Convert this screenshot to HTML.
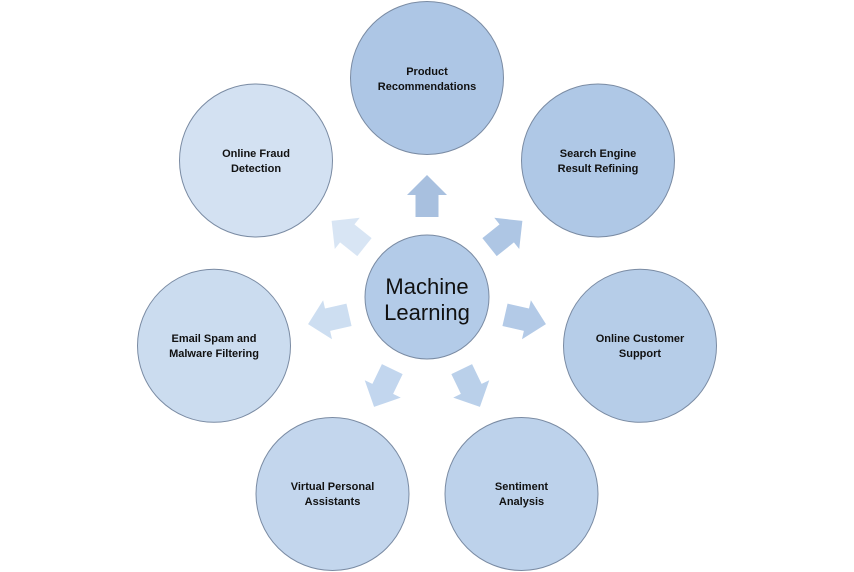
<!DOCTYPE html>
<html><head><meta charset="utf-8"><style>
html,body{margin:0;padding:0;background:#fff;}
svg{display:block;}
text{font-family:"Liberation Sans",sans-serif;fill:#111;}
.t{font-size:11px;font-weight:bold;text-anchor:middle;}
</style></head><body>
<svg width="854" height="572" viewBox="0 0 854 572" xmlns="http://www.w3.org/2000/svg">
<g stroke="#7a8ba3" stroke-width="1">
<circle cx="427" cy="78" r="76.5" fill="#adc6e5"/>
<circle cx="598" cy="160.5" r="76.5" fill="#afc8e6"/>
<circle cx="640" cy="345.8" r="76.5" fill="#b6cde8"/>
<circle cx="521.5" cy="494" r="76.5" fill="#bdd2eb"/>
<circle cx="332.5" cy="494" r="76.5" fill="#c3d6ed"/>
<circle cx="214" cy="345.8" r="76.5" fill="#cbdcef"/>
<circle cx="256" cy="160.5" r="76.5" fill="#d3e1f2"/>
<circle cx="427" cy="297" r="62" fill="#b3cbe8"/>
</g>
<g>
<polygon points="-11.5,-80 11.5,-80 11.5,-102 20,-102 0,-122 -20,-102 -11.5,-102" fill="#a8c0df" transform="translate(427,297) rotate(0)"/>
<polygon points="-11.5,-80 11.5,-80 11.5,-102 20,-102 0,-122 -20,-102 -11.5,-102" fill="#aec6e4" transform="translate(427,297) rotate(51.43)"/>
<polygon points="-11.5,-80 11.5,-80 11.5,-102 20,-102 0,-122 -20,-102 -11.5,-102" fill="#b3cae7" transform="translate(427,297) rotate(102.86)"/>
<polygon points="-11.5,-80 11.5,-80 11.5,-102 20,-102 0,-122 -20,-102 -11.5,-102" fill="#bad0ea" transform="translate(427,297) rotate(154.29)"/>
<polygon points="-11.5,-80 11.5,-80 11.5,-102 20,-102 0,-122 -20,-102 -11.5,-102" fill="#c2d6ee" transform="translate(427,297) rotate(205.71)"/>
<polygon points="-11.5,-80 11.5,-80 11.5,-102 20,-102 0,-122 -20,-102 -11.5,-102" fill="#cddef1" transform="translate(427,297) rotate(257.14)"/>
<polygon points="-11.5,-80 11.5,-80 11.5,-102 20,-102 0,-122 -20,-102 -11.5,-102" fill="#d8e5f4" transform="translate(427,297) rotate(308.57)"/>
</g>
<text x="427" y="294" font-size="22" text-anchor="middle">Machine</text>
<text x="427" y="320" font-size="22" text-anchor="middle">Learning</text>
<text class="t" x="427" y="75">Product</text>
<text class="t" x="427" y="90">Recommendations</text>
<text class="t" x="598" y="157">Search Engine</text>
<text class="t" x="598" y="172">Result Refining</text>
<text class="t" x="640" y="342">Online Customer</text>
<text class="t" x="640" y="357">Support</text>
<text class="t" x="521.5" y="490">Sentiment</text>
<text class="t" x="521.5" y="505">Analysis</text>
<text class="t" x="332.5" y="490">Virtual Personal</text>
<text class="t" x="332.5" y="505">Assistants</text>
<text class="t" x="214" y="342">Email Spam and</text>
<text class="t" x="214" y="357">Malware Filtering</text>
<text class="t" x="256" y="157">Online Fraud</text>
<text class="t" x="256" y="172">Detection</text>
</svg>
</body></html>
